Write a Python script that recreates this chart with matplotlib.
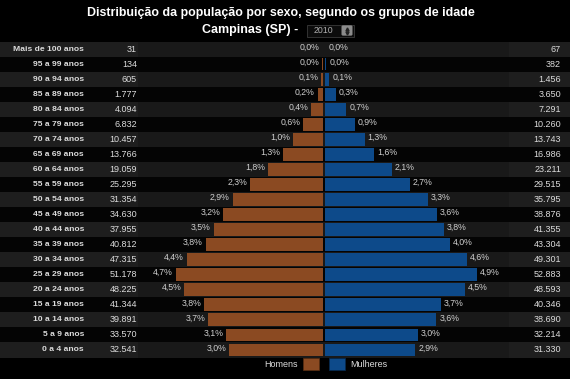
import matplotlib
matplotlib.use("Agg")
import matplotlib.pyplot as plt
from matplotlib.patches import Patch, Rectangle, FancyBboxPatch
from matplotlib.lines import Line2D
import matplotlib.transforms as mtransforms

plt.rcParams['font.family'] = ['Liberation Sans', 'DejaVu Sans']

age_groups = ["Mais de 100 anos", "95 a 99 anos", "90 a 94 anos", "85 a 89 anos",
              "80 a 84 anos", "75 a 79 anos", "70 a 74 anos", "65 a 69 anos",
              "60 a 64 anos", "55 a 59 anos", "50 a 54 anos", "45 a 49 anos",
              "40 a 44 anos", "35 a 39 anos", "30 a 34 anos", "25 a 29 anos",
              "20 a 24 anos", "15 a 19 anos", "10 a 14 anos", "5 a 9 anos", "0 a 4 anos"]
men = [31, 134, 605, 1777, 4094, 6832, 10457, 13766, 19059, 25295, 31354, 34630,
       37955, 40812, 47315, 51178, 48225, 41344, 39891, 33570, 32541]
women = [67, 382, 1456, 3650, 7291, 10260, 13743, 16986, 23211, 29515, 35795, 38876,
         41355, 43304, 49301, 52883, 48593, 40346, 38690, 32214, 31330]
year = "2010"

total = sum(men) + sum(women)
men_pct = [m / total * 100 for m in men]
women_pct = [w / total * 100 for w in women]

def fmt_int(v):
    return f"{v:,}".replace(",", ".")

def fmt_pct(p):
    return f"{p:.1f}%".replace(".", ",")

W, H = 570, 379
fig = plt.figure(figsize=(W / 100, H / 100), dpi=100, facecolor="black")

def fx(px):
    return px / W

def fy(py):
    return 1 - py / H

# axes spanning full width, rows region vertically
top_px, bot_px = 41.5, 357.5
ax = fig.add_axes([0, fy(bot_px), 1, (bot_px - top_px) / H])
ax.set_facecolor("black")
px_per_pct = 31.0
center_px = 324.0
ax.set_xlim(-center_px / px_per_pct, (W - center_px) / px_per_pct)
n = len(age_groups)
ax.set_ylim(n - 0.5, -0.5)
ax.axis("off")

col1 = fx(138)
col2 = fx(509)
for i in range(n):
    if i % 2 == 0:
        ax.axhspan(i - 0.5, i + 0.5, 0, col1, color="#1e1e1e", lw=0, zorder=0)
        ax.axhspan(i - 0.5, i + 0.5, col1, col2, color="#191919", lw=0, zorder=0)
        ax.axhspan(i - 0.5, i + 0.5, col2, 1, color="#1e1e1e", lw=0, zorder=0)
    else:
        ax.axhspan(i - 0.5, i + 0.5, 0, 1, color="#040404", lw=0, zorder=0)

gap = 0.04
men_color = "#8B4A22"
women_color = "#0D4A8A"
ys = list(range(n))
ax.barh(ys, [-p for p in men_pct], left=-gap, height=0.85, color=men_color, zorder=2)
ax.barh(ys, women_pct, left=gap, height=0.85, color=women_color, zorder=2)

txt_color = "#dcdcdc"
blend = mtransforms.blended_transform_factory(fig.transFigure, ax.transData)
for i in range(n):
    ax.text(fx(84), i, age_groups[i], transform=blend, ha="right", va="center",
            fontsize=6.1, fontweight="bold", color=txt_color)
    ax.text(fx(137), i, fmt_int(men[i]), transform=blend, ha="right", va="center",
            fontsize=6.5, color=txt_color)
    ax.text(fx(561), i, fmt_int(women[i]), transform=blend, ha="right", va="center",
            fontsize=6.5, color=txt_color)
    ax.annotate(fmt_pct(men_pct[i]), xy=(-men_pct[i] - gap, i), xytext=(-3, 2),
                textcoords="offset pixels", ha="right", va="center",
                fontsize=6.3, color="#cfcfcf", zorder=3)
    ax.annotate(fmt_pct(women_pct[i]), xy=(women_pct[i] + gap, i), xytext=(3, 2),
                textcoords="offset pixels", ha="left", va="center",
                fontsize=6.3, color="#cfcfcf", zorder=3)

# title
fig.text(fx(281), fy(13), "Distribuição da população por sexo, segundo os grupos de idade",
         ha="center", va="center", fontsize=8.9, fontweight="bold", color="white")
fig.text(fx(302), fy(30), "Campinas (SP) - ", ha="right", va="center",
         fontsize=9.0, fontweight="bold", color="white")
# year dropdown
fig.add_artist(Rectangle((fx(307), fy(36.5)), fx(47), 12 / H, transform=fig.transFigure,
                         fc="#0c0c0c", ec="#3a3a3a", lw=0.6))
fig.text(fx(323), fy(30.5), year, ha="center", va="center", fontsize=6.3, color="#b0b0b0")
fig.add_artist(FancyBboxPatch((fx(343), fy(34.5)), fx(8), 8 / H,
                              boxstyle="round,pad=0.002", transform=fig.transFigure,
                              fc="#8c8c8c", ec="#8c8c8c", lw=0.4))
fig.add_artist(Line2D([fx(347)], [fy(28.5)], marker="^", ms=2.2, color="#222222",
                      transform=fig.transFigure, lw=0))
fig.add_artist(Line2D([fx(347)], [fy(32.5)], marker="v", ms=2.2, color="#222222",
                      transform=fig.transFigure, lw=0))

# legend
fig.legend([Patch(facecolor=men_color, edgecolor="#5a2e12", lw=0.5)], ["Homens"],
           loc="center right", bbox_to_anchor=(fx(319), fy(364)),
           markerfirst=False, frameon=False, fontsize=6.5, labelcolor=txt_color,
           handlelength=1.8, handleheight=1.6, handletextpad=0.5, borderpad=0,
           borderaxespad=0)
fig.legend([Patch(facecolor=women_color, edgecolor="#072a50", lw=0.5)], ["Mulheres"],
           loc="center left", bbox_to_anchor=(fx(329), fy(364)),
           frameon=False, fontsize=6.5, labelcolor=txt_color,
           handlelength=1.8, handleheight=1.6, handletextpad=0.5, borderpad=0,
           borderaxespad=0)

fig.savefig("out.png", dpi=100, facecolor="black")
